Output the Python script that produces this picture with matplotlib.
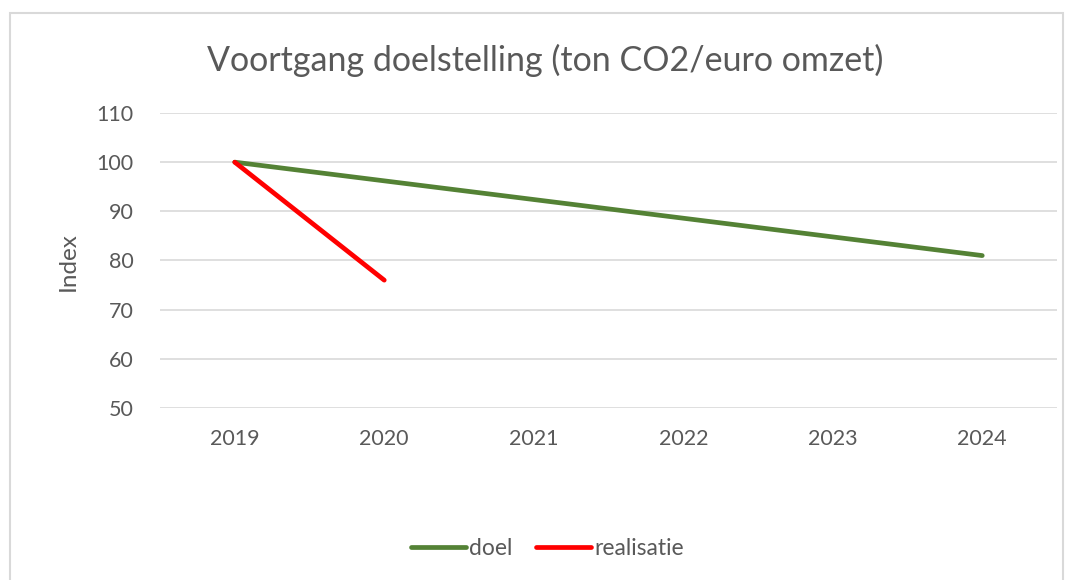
import matplotlib.pyplot as plt
from matplotlib.patches import Rectangle

jaren = ["2019", "2020", "2021", "2022", "2023", "2024"]
doel = [100, 96.2, 92.4, 88.6, 84.8, 81.0]
realisatie = [100, 76]
yticks = [50, 60, 70, 80, 90, 100, 110]

plt.rcParams['font.family'] = ['Lato', 'DejaVu Sans']
tekst = '#595959'

fig = plt.figure(figsize=(10.65, 5.8), dpi=100)
ax = fig.add_axes([160/1065, 1 - 408/580, 897/1065, 295/580])

x = list(range(len(jaren)))
ax.plot(x, doel, color='#548235', lw=3.4, solid_capstyle='round', label='doel', zorder=3)
ax.plot(x[:len(realisatie)], realisatie, color='#ff0000', lw=3.4, solid_capstyle='round',
        label='realisatie', zorder=4)

ax.set_xlim(-0.5, len(jaren) - 0.5)
ax.set_ylim(50, 110)
ax.set_yticks(yticks)
ax.set_xticks(x)
ax.set_xticklabels(jaren)
ax.yaxis.grid(True, color='#d9d9d9', lw=1.2)
ax.set_axisbelow(True)
for s in ax.spines.values():
    s.set_visible(False)
ax.tick_params(length=0, labelsize=15.5, colors=tekst)
ax.tick_params(axis='y', pad=19)
ax.tick_params(axis='x', pad=15)

fig.text(68/1065, 1 - 262/580, 'Index', rotation=90, ha='center', va='center',
         fontsize=17.5, color=tekst)
fig.text(0.512, 0.895, 'Voortgang doelstelling (ton CO2/euro omzet)', ha='center', va='center',
         fontsize=24.5, color=tekst)

leg = fig.legend(loc='center', bbox_to_anchor=(0.514, 0.055), ncol=2, frameon=False,
                 fontsize=16.5, handlelength=2.4, handletextpad=0.15, columnspacing=1.0)
for t in leg.get_texts():
    t.set_color(tekst)

fig.patches.append(Rectangle((10/1065, -0.05), 1053/1065, 1 - 13/580 + 0.05, transform=fig.transFigure,
                             fill=False, edgecolor='#d9d9d9', lw=1.5))

fig.savefig('out.png', dpi=100, facecolor='white')
